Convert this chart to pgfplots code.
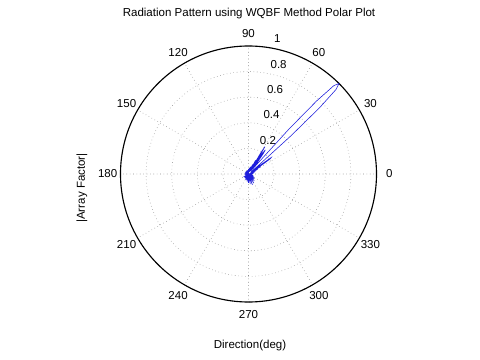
\documentclass[border=0pt]{standalone}
\usepackage{fontspec}
\setmainfont{Liberation Sans}
\usepackage{pgfplots}
\usepgfplotslibrary{polar}
\pgfplotsset{compat=1.18}
\definecolor{gridgray}{RGB}{140,140,140}
\definecolor{patblue}{RGB}{30,30,220}
\newcommand{\figfont}{\fontsize{8.2}{9.5}\selectfont}

\begin{document}
\begin{tikzpicture}
\path[use as bounding box] (0,0) rectangle (12cm,9cm);
\node[font=\figfont] at (6.225cm,8.65cm) {Radiation Pattern using WQBF Method Polar Plot};
\node[font=\figfont] at (6.25cm,0.35cm) {Direction(deg)};
\node[font=\figfont, rotate=90] at (2.05cm,4.3cm) {|Array Factor|};
\begin{polaraxis}[
  at={(6.2125cm,4.65cm)}, anchor=center,
  width=6.4cm, height=6.4cm, scale only axis,
  ymin=0, ymax=1,
  xtick={0,30,...,330}, ytick={0.2,0.4,0.6,0.8,1},
  xticklabels={}, yticklabels={},
  major tick length=0pt,
  grid=major,
  major grid style={gridgray, dotted, line width=0.4pt},
  x axis line style={black, line width=0.8pt},
  y axis line style={draw=none},
  clip=false,
]
\addplot[patblue, line width=0.4pt] coordinates {
(0,0.02) (5,0.04) (8,0.01) (11,0.03) (14,0.01) (17,0.05) (20,0.02) (23,0.06)
(25,0.02) (27,0.08) (29,0.02) (31,0.11) (33,0.03) (34,0.14) (35,0.21) (36,0.22)
(37,0.12) (38,0.02) (39,0.09) (40,0.04) (41,0.12) (42,0.45) (43,0.76) (44,0.95)
(45,1.0) (46,0.96) (47,0.78) (48,0.47) (49,0.12) (50,0.05) (51,0.12) (52,0.03)
(53,0.13) (54,0.19) (55,0.23) (56,0.20) (57,0.05) (58,0.17) (59,0.25) (60,0.19)
(61,0.03) (63,0.12) (65,0.02) (67,0.08) (70,0.02) (73,0.06) (76,0.02) (80,0.05)
(85,0.01) (90,0.04) (95,0.01) (100,0.03) (105,0.01) (110,0.03) (115,0.01) (120,0.02)
(125,0.01) (130,0.03) (135,0.01) (140,0.02) (145,0.01) (150,0.03) (155,0.01) (160,0.02)
(165,0.01) (170,0.03) (175,0.01) (180,0.02) (185,0.01) (190,0.03) (195,0.01) (200,0.02)
(205,0.01) (210,0.03) (215,0.02) (220,0.04) (225,0.01) (230,0.04) (235,0.02) (240,0.05)
(245,0.01) (250,0.05) (255,0.02) (260,0.06) (265,0.02) (270,0.07) (275,0.02) (280,0.08)
(285,0.03) (290,0.09) (295,0.02) (300,0.08) (305,0.03) (310,0.07) (315,0.02) (320,0.06)
(325,0.02) (330,0.05) (335,0.01) (340,0.04) (345,0.01) (350,0.03) (355,0.01) (360,0.02)
};
% angle labels
\node[font=\figfont] at (axis cs:0,1.1) {0};
\node[font=\figfont] at (axis cs:30,1.1) {30};
\node[font=\figfont] at (axis cs:60,1.1) {60};
\node[font=\figfont] at (axis cs:90,1.1) {90};
\node[font=\figfont] at (axis cs:120,1.1) {120};
\node[font=\figfont] at (axis cs:150,1.1) {150};
\node[font=\figfont] at (axis cs:180,1.1) {180};
\node[font=\figfont] at (axis cs:210,1.1) {210};
\node[font=\figfont] at (axis cs:240,1.1) {240};
\node[font=\figfont] at (axis cs:270,1.1) {270};
\node[font=\figfont] at (axis cs:300,1.1) {300};
\node[font=\figfont] at (axis cs:330,1.1) {330};
% radial labels
\node[font=\figfont, anchor=south west, inner sep=0pt, xshift=0.19cm, yshift=0.1cm] at (axis cs:82,0.2) {0.2};
\node[font=\figfont, anchor=south west, inner sep=0pt, xshift=0.19cm, yshift=0.1cm] at (axis cs:82,0.4) {0.4};
\node[font=\figfont, anchor=south west, inner sep=0pt, xshift=0.19cm, yshift=0.1cm] at (axis cs:82,0.6) {0.6};
\node[font=\figfont, anchor=south west, inner sep=0pt, xshift=0.19cm, yshift=0.1cm] at (axis cs:82,0.8) {0.8};
\node[font=\figfont, anchor=south west, inner sep=0pt, xshift=0.19cm, yshift=0.1cm] at (axis cs:82,1) {1};
\end{polaraxis}
\end{tikzpicture}
\end{document}
